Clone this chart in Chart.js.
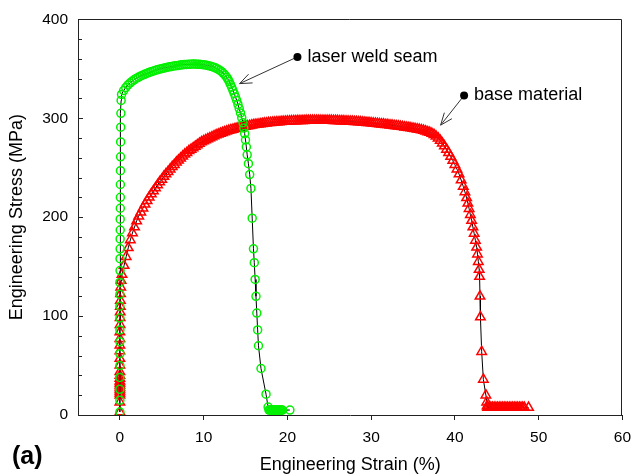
<!DOCTYPE html>
<html>
<head>
<meta charset="utf-8">
<title>Engineering stress-strain curves</title>
<script src="https://cdn.jsdelivr.net/npm/chart.js@4.4.1/dist/chart.umd.min.js"></script>
<style>
  html, body { margin: 0; padding: 0; background: #fff; }
  #wrap { width: 639px; height: 476px; }
</style>
</head>
<body>
<div id="wrap"><canvas id="myChart" width="639" height="476"></canvas></div>
<script>
{
  'use strict';

  /* Data */

  // laser weld seam, strain in %, stress in MPa
  const weldStrain = [
    0, 0, 0, 0, 0, 0, 0, 0, 0, 0, 0, 0, 0.02, 0.02, 0.03, 0.03, 0.04, 0.04, 0.05, 0.06, 0.06, 0.07, 0.08, 0.09, 0.1, 0.12, 0.15,
    0.2, 0.45, 0.7, 0.95, 1.2, 1.45, 1.7, 1.95, 2.2, 2.45,
    2.7, 2.95, 3.2, 3.45, 3.7, 3.95, 4.2, 4.45, 4.7, 4.95,
    5.2, 5.45, 5.7, 5.95, 6.2, 6.45, 6.7, 6.95, 7.2, 7.45,
    7.7, 7.95, 8.2, 8.45, 8.7, 8.95, 9.2, 9.45, 9.7, 9.95,
    10.2, 10.45, 10.7, 10.95, 11.2, 11.45, 11.7, 11.95,
    12.15, 12.35, 12.55, 12.75, 12.9, 13.05, 13.2, 13.35, 13.5, 13.65,
    13.8, 13.95, 14.1, 14.25, 14.4, 14.55, 14.7, 14.8, 14.9, 15.0,
    15.1, 15.2, 15.35, 15.5, 15.65, 15.8, 15.95, 16.05, 16.15, 16.25,
    16.35, 16.45, 16.55, 16.85, 17.45, 17.7,
    17.8, 17.9, 18.0, 18.1, 18.2, 18.3, 18.4, 18.5, 18.6, 18.7, 18.8, 18.9, 19.0, 19.1, 19.2, 19.3, 19.4, 20.3
  ];
  const weldStress = [
    3, 15, 26, 38, 50, 62, 74, 86, 98, 110, 122, 134, 146, 158, 168, 178, 187, 198, 209, 220, 233, 247, 261, 276, 291, 305, 318,
    324, 328, 331, 333.5, 335.5, 337.3, 338.8, 340.2, 341.4, 342.5,
    343.5, 344.4, 345.3, 346.1, 346.9, 347.6, 348.3, 348.9, 349.5, 350.1,
    350.6, 351.1, 351.6, 352.0, 352.4, 352.8, 353.1, 353.4, 353.7, 354.0,
    354.2, 354.4, 354.5, 354.6, 354.7, 354.7, 354.6, 354.5, 354.3, 354.1,
    353.8, 353.4, 352.9, 352.3, 351.6, 350.7, 349.6, 348.3,
    347, 345.4, 343.6, 341.5, 339.5, 337, 334.2, 331.3, 328.2, 325,
    321.5, 318, 314, 309.8, 305.4, 300.6, 295.4, 290, 284.5, 278,
    271, 263, 254, 243, 229, 199, 168, 154, 137, 120,
    103, 86, 70, 47, 21, 8,
    5, 5, 5, 5, 5, 5, 5, 5, 5, 5, 5, 5, 5, 5, 5, 5, 5, 5
  ];

  // base material
  const baseStrain = [
    0, 0, 0, 0, 0, 0, 0, 0, 0, 0, 0, 0, 0, 0, 0, 0, 0, 0, 0, 0.02, 0.03, 0.04, 0.05, 0.06, 0.08, 0.1, 0.15,
    0.25, 0.5, 0.75, 1, 1.25, 1.5, 1.75, 2, 2.25, 2.5,
    2.75, 3, 3.25, 3.5, 3.75, 4, 4.25, 4.5, 4.75, 5,
    5.25, 5.5, 5.75, 6, 6.25, 6.5, 6.75, 7, 7.25, 7.5,
    7.75, 8, 8.25, 8.5, 8.75, 9, 9.25, 9.5, 9.75, 10,
    10.25, 10.5, 10.75, 11, 11.25, 11.5, 11.75, 12, 12.25, 12.5,
    12.75, 13, 13.25, 13.5, 13.75, 14, 14.25, 14.5, 14.75, 15,
    15.25, 15.5, 15.75, 16, 16.25, 16.5, 16.75, 17, 17.25, 17.5,
    17.75, 18, 18.25, 18.5, 18.75, 19, 19.25, 19.5, 19.75, 20,
    20.25, 20.5, 20.75, 21, 21.25, 21.5, 21.75, 22, 22.25, 22.5,
    22.75, 23, 23.25, 23.5, 23.75, 24, 24.25, 24.5, 24.75, 25,
    25.25, 25.5, 25.75, 26, 26.25, 26.5, 26.75, 27, 27.25, 27.5,
    27.75, 28, 28.25, 28.5, 28.75, 29, 29.25, 29.5, 29.75, 30,
    30.25, 30.5, 30.75, 31, 31.25, 31.5, 31.75, 32, 32.25, 32.5,
    32.75, 33, 33.25, 33.5, 33.75, 34, 34.25, 34.5, 34.75, 35,
    35.25, 35.5, 35.75, 36, 36.25, 36.5, 36.75, 37, 37.25, 37.5,
    37.75, 38, 38.25, 38.5, 38.75, 39, 39.25, 39.5, 39.75, 40,
    40.25, 40.5, 40.75, 41,
    41.2, 41.4, 41.55, 41.7, 41.85, 42, 42.15, 42.3, 42.45, 42.6,
    42.7, 42.8, 42.9, 42.95, 43, 43.05, 43.2, 43.4, 43.7, 43.8, 43.85,
    43.9, 44.1, 44.3, 44.5, 44.7, 44.9, 45.1, 45.3, 45.5, 45.7, 45.9, 46.1,
    46.3, 46.5, 46.7, 46.9, 47.1, 47.3, 47.5, 47.7, 47.9, 48.1, 48.3, 48.8
  ];
  const baseStress = [
    3, 13, 20, 22, 24, 26, 28, 30, 32, 34, 37, 40, 43.6, 50.3, 57, 64.7, 70.5, 77.2, 83.9, 91.3, 98.4, 104, 109.7, 115.8, 122.5, 129.2, 135.9,
    142, 151, 160, 169, 177, 184, 190, 196, 201, 205,
    209, 213, 216.5, 220, 223.5, 226.5, 229.5, 232.5, 235.5, 238,
    241, 243.5, 246, 248.5, 251, 253, 255.5, 257.5, 259.5, 261.5,
    263.5, 265, 267, 268.5, 270, 271.5, 273, 274.5, 276, 277,
    278, 279, 280, 281, 282, 283, 283.8, 284.6, 285.4, 286.1,
    286.8, 287.5, 288.1, 288.7, 289.3, 289.8, 290.3, 290.8, 291.3, 291.7,
    292.1, 292.5, 292.9, 293.3, 293.6, 293.9, 294.2, 294.5, 294.8, 295.0,
    295.3, 295.5, 295.7, 295.9, 296.1, 296.3, 296.5, 296.6, 296.8, 296.9,
    297.0, 297.1, 297.2, 297.3, 297.4, 297.4, 297.5, 297.5, 297.6, 297.6,
    297.6, 297.7, 297.7, 297.7, 297.7, 297.7, 297.7, 297.7, 297.6, 297.6,
    297.6, 297.5, 297.5, 297.4, 297.3, 297.2, 297.1, 297.0, 296.9, 296.8,
    296.7, 296.5, 296.4, 296.2, 296.1, 295.9, 295.7, 295.5, 295.3, 295.1,
    294.9, 294.7, 294.5, 294.2, 294.0, 293.8, 293.5, 293.3, 293.0, 292.8,
    292.5, 292.2, 291.9, 291.6, 291.3, 291.0, 290.7, 290.4, 290.0, 289.7,
    289.3, 288.9, 288.5, 288.0, 287.5, 286.9, 286.2, 285.5, 284.5, 283.3,
    281.7, 279.8, 277.5, 274.8, 271.8, 268.5, 265, 261.2, 257.2, 253,
    248.5, 243.5, 237.5, 231,
    225.5, 219.5, 214, 208.5, 202.5, 196.5, 190, 183.5, 176.5, 169.5,
    162.5, 155, 147, 140, 120, 99, 64, 36, 20, 13, 9,
    7.5, 7.5, 7.5, 7.5, 7.5, 7.5, 7.5, 7.5, 7.5, 7.5, 7.5, 7.5,
    7.5, 7.5, 7.5, 7.5, 7.5, 7.5, 7.5, 7.5, 7.5, 7.5, 7.5, 7.5
  ];

  const seriesNames = ['laser weld seam', 'base material'];

  // callouts: label, dot position and arrow tip, in data units
  const callouts = [
    { text: seriesNames[0], dot: [21.2, 362], tip: [14.3, 335] },
    { text: seriesNames[1], dot: [41.1, 323], tip: [38.3, 293] }
  ];

  const FONT = '"Liberation Sans", Arial, Helvetica, sans-serif';
  Chart.defaults.font.family = FONT;
  Chart.defaults.color = '#000';

  function toPoints(xs, ys) {
    return xs.map((x, i) => ({ x: x, y: ys[i] }));
  }

  /* Frame, inward y ticks, callouts and panel letter */
  const extras = {
    id: 'extras',
    afterDraw(chart) {
      const { ctx, chartArea: a, scales: { x, y } } = chart;
      ctx.save();
      ctx.strokeStyle = '#222';
      ctx.lineWidth = 1;

      // top and right edges of the box
      const top = Math.round(a.top) + 0.5;
      const right = Math.round(a.right) - 0.5;
      ctx.beginPath();
      ctx.moveTo(a.left, top);
      ctx.lineTo(right, top);
      ctx.lineTo(right, a.bottom);
      ctx.stroke();

      // y ticks pointing into the plot
      for (let v = 0; v <= 400; v += 20) {
        const py = Math.round(y.getPixelForValue(v)) + 0.5;
        ctx.beginPath();
        ctx.moveTo(a.left, py);
        ctx.lineTo(a.left + (v % 100 === 0 ? 5 : 4), py);
        ctx.stroke();
      }

      // callouts
      ctx.font = '18px ' + FONT;
      ctx.textBaseline = 'middle';
      ctx.textAlign = 'left';
      for (const c of callouts) {
        const dx = x.getPixelForValue(c.dot[0]);
        const dy = y.getPixelForValue(c.dot[1]);
        const tx = x.getPixelForValue(c.tip[0]);
        const ty = y.getPixelForValue(c.tip[1]);
        ctx.strokeStyle = '#333';
        ctx.beginPath();
        ctx.moveTo(dx, dy);
        ctx.lineTo(tx, ty);
        const ang = Math.atan2(dy - ty, dx - tx);
        const len = 13;
        for (const s of [-0.38, 0.38]) {
          ctx.moveTo(tx, ty);
          ctx.lineTo(tx + len * Math.cos(ang + s), ty + len * Math.sin(ang + s));
        }
        ctx.stroke();

        ctx.fillStyle = '#000';
        ctx.beginPath();
        ctx.arc(dx, dy, 4, 0, Math.PI * 2);
        ctx.fill();
        ctx.fillText(c.text, dx + 10, dy);
      }

      // panel letter
      ctx.font = 'bold 25px ' + FONT;
      ctx.fillText('(a)', 12, 457);
      ctx.restore();
    }
  };

  function initChart() {
    const ctx = document.getElementById('myChart').getContext('2d');

    return new Chart(ctx, {
      type: 'scatter',
      data: {
        datasets: [
          {
            label: seriesNames[0],
            data: toPoints(weldStrain, weldStress),
            showLine: true,
            borderColor: '#000',
            borderWidth: 1,
            pointStyle: 'circle',
            pointRadius: 4,
            pointBorderWidth: 1.5,
            pointBorderColor: '#00f000',
            pointBackgroundColor: 'rgba(0,0,0,0)'
          },
          {
            label: seriesNames[1],
            data: toPoints(baseStrain, baseStress),
            showLine: true,
            borderColor: '#000',
            borderWidth: 1,
            pointStyle: 'triangle',
            pointRadius: 5.5,
            pointBorderWidth: 1.5,
            pointBorderColor: '#ff0000',
            pointBackgroundColor: 'rgba(0,0,0,0)'
          }
        ]
      },
      options: {
        responsive: false,
        animation: false,
        events: [],
        layout: { padding: { top: 18, right: 11, left: 0, bottom: 0 } },
        plugins: {
          legend: { display: false },
          tooltip: { enabled: false }
        },
        scales: {
          x: {
            type: 'linear',
            min: -5,
            max: 60,
            ticks: {
              stepSize: 10,
              includeBounds: false,
              maxRotation: 0,
              padding: 8,
              font: { size: 15.5 }
            },
            grid: { drawOnChartArea: false, drawTicks: true, tickLength: 5, color: '#222' },
            border: { color: '#222', width: 1 },
            title: {
              display: true,
              text: 'Engineering Strain (%)',
              font: { size: 18 },
              padding: { top: 0, bottom: 0 }
            },
            afterFit(scale) { scale.height = 61; }
          },
          y: {
            min: 0,
            max: 400,
            ticks: { stepSize: 100, padding: 10, font: { size: 15.5 } },
            grid: { display: false, drawTicks: false },
            border: { color: '#222', width: 1 },
            title: {
              display: true,
              text: 'Engineering Stress (MPa)',
              font: { size: 18 },
              padding: { top: 6, bottom: 0 }
            },
            afterFit(scale) { scale.width = 78; }
          }
        }
      },
      plugins: [extras]
    });
  }

  initChart();
}
</script>
</body>
</html>
